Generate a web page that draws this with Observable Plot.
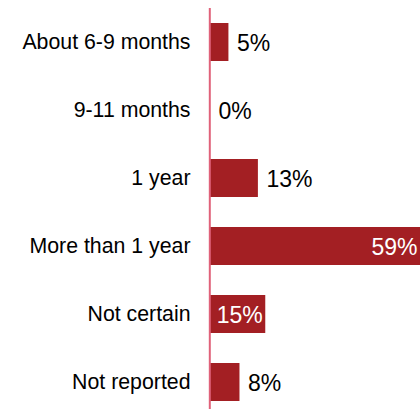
<!DOCTYPE html>
<html>
<head>
<meta charset="utf-8">
<script src="https://cdn.jsdelivr.net/npm/d3@7"></script>
<script src="https://cdn.jsdelivr.net/npm/@observablehq/plot@0.6"></script>
<style>
  html, body { margin: 0; padding: 0; overflow: hidden; background: #fff; }
  #chart svg { display: block; max-width: none !important; }
</style>
</head>
<body>
<div id="chart"></div>
<script>
const categories = ["About 6-9 months", "9-11 months", "1 year", "More than 1 year", "Not certain", "Not reported"];
const values = [5, 0, 13, 59, 15, 8];
const insideLabels = ["More than 1 year", "Not certain"];
const xMax = 57;

const data = categories.map((c, i) => ({category: c, value: values[i], inside: insideLabels.includes(c)}));
const outside = data.filter(d => !d.inside);
const inside = data.filter(d => d.inside).map(d => ({...d, pos: Math.min(d.value, xMax)}));

const font = "'Liberation Sans', Arial, sans-serif";
const chart = Plot.plot({
  width: 440,
  height: 424,
  marginLeft: 210,
  marginRight: 20,
  marginTop: 8,
  marginBottom: 8,
  style: {fontFamily: font, fontSize: "21.3px", color: "#000", background: "#fff", maxWidth: "none"},
  x: {domain: [0, xMax], axis: null},
  y: {domain: categories, paddingInner: 0.44, paddingOuter: 0.22, label: null, tickSize: 0, tickPadding: 20},
  marks: [
    Plot.barX(data, {x: "value", y: "category", fill: "#a31f23"}),
    Plot.ruleX([0], {stroke: "#e0627a", strokeWidth: 2, dx: -0.7}),
    Plot.text(outside, {x: "value", y: "category", text: d => d.value + "%", textAnchor: "start", dx: 8, dy: 1, fill: "#000", fontSize: 23}),
    Plot.text(inside, {x: "pos", y: "category", text: d => d.value + "%", textAnchor: "end", dx: -3, dy: 1, fill: "#fff", fontSize: 23})
  ]
});
document.getElementById("chart").appendChild(chart);
</script>
</body>
</html>
